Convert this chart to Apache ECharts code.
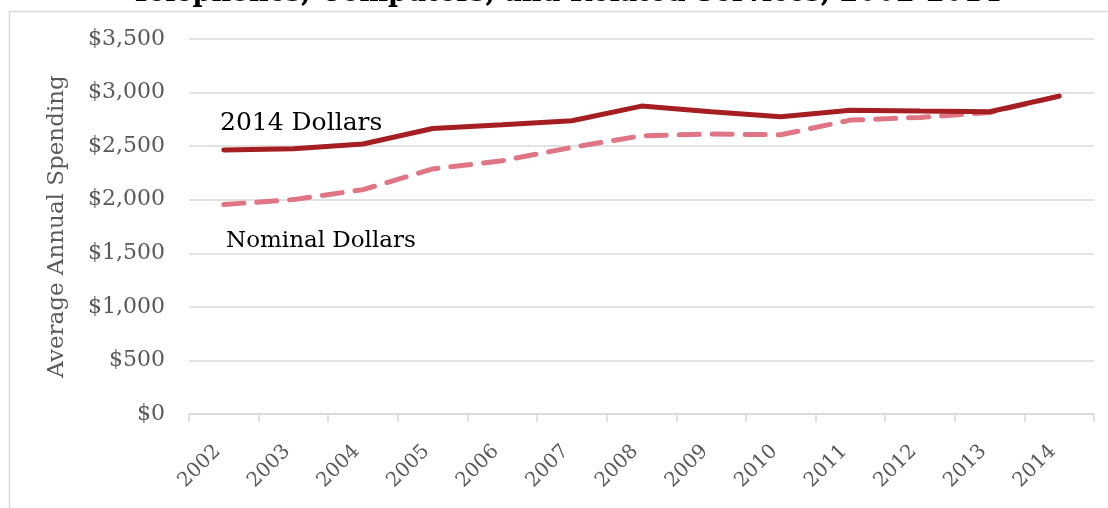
<!DOCTYPE html>
<html>
<head>
<meta charset="utf-8">
<script src="https://cdn.jsdelivr.net/npm/echarts@6/dist/echarts.min.js"></script>
<style>
html, body { margin: 0; padding: 0; background: #fff; }
#chart { width: 1108px; height: 508px; }
</style>
</head>
<body>
<div id="chart"></div>
<script>
var years = ['2002', '2003', '2004', '2005', '2006', '2007', '2008', '2009', '2010', '2011', '2012', '2013', '2014'];
var real2014 = [2464, 2475, 2520, 2665, 2700, 2737, 2874, 2820, 2774, 2836, 2827, 2821, 2967];
var nominal = [1955, 2001, 2094, 2287, 2364, 2488, 2597, 2613, 2606, 2743, 2768, 2814, 2967];

var serif = '"DejaVu Serif", "Liberation Serif", serif';
var chart = echarts.init(document.getElementById('chart'));

var option = {
    backgroundColor: '#fff',
    animation: false,
    grid: { left: 189, right: 14, top: 39, bottom: 94 },
    xAxis: {
        type: 'category',
        data: years,
        boundaryGap: true,
        axisLine: { lineStyle: { color: '#d9d9d9', width: 1.5 } },
        axisTick: { show: true, length: 8, lineStyle: { color: '#d9d9d9', width: 1.5 } },
        axisLabel: { rotate: 45, color: '#595959', fontFamily: serif, fontSize: 20, margin: 28, padding: [0, 9, 0, 0] }
    },
    yAxis: {
        type: 'value',
        min: 0,
        max: 3500,
        interval: 500,
        name: 'Average Annual Spending',
        nameLocation: 'middle',
        nameGap: 120,
        nameTextStyle: { color: '#595959', fontFamily: serif, fontSize: 23 },
        axisLine: { show: false },
        axisTick: { show: false },
        splitLine: { lineStyle: { color: '#d9d9d9', width: 1.5 } },
        axisLabel: {
            color: '#595959', fontFamily: serif, fontSize: 22, margin: 24,
            formatter: function (v) { return '$' + v.toLocaleString('en-US'); }
        }
    },
    series: [
        {
            name: 'Nominal Dollars',
            type: 'line',
            data: nominal,
            symbol: 'none',
            lineStyle: { color: '#e07585', width: 5, type: [20, 13], cap: 'round' }
        },
        {
            name: '2014 Dollars',
            type: 'line',
            data: real2014,
            symbol: 'none',
            lineStyle: { color: '#a51f22', width: 5, cap: 'round' }
        }
    ],
    graphic: [
        { type: 'rect', left: 7, top: 9, shape: { width: 1200, height: 600 }, style: { fill: 'none', stroke: '#d9d9d9', lineWidth: 1.5 }, z: -1 },
        { type: 'text', x: 566, y: -6, style: { text: 'Telephones, Computers, and Related Services, 2002-2014', font: 'bold 27px ' + serif, fill: '#000', textAlign: 'center', textVerticalAlign: 'middle' } },
        { type: 'text', x: 220, y: 123, style: { text: '2014 Dollars', font: '25px ' + serif, fill: '#000', textVerticalAlign: 'middle' } },
        { type: 'text', x: 226, y: 241, style: { text: 'Nominal Dollars', font: '23px ' + serif, fill: '#000', textVerticalAlign: 'middle' } }
    ]
};

chart.setOption(option);
</script>
</body>
</html>
